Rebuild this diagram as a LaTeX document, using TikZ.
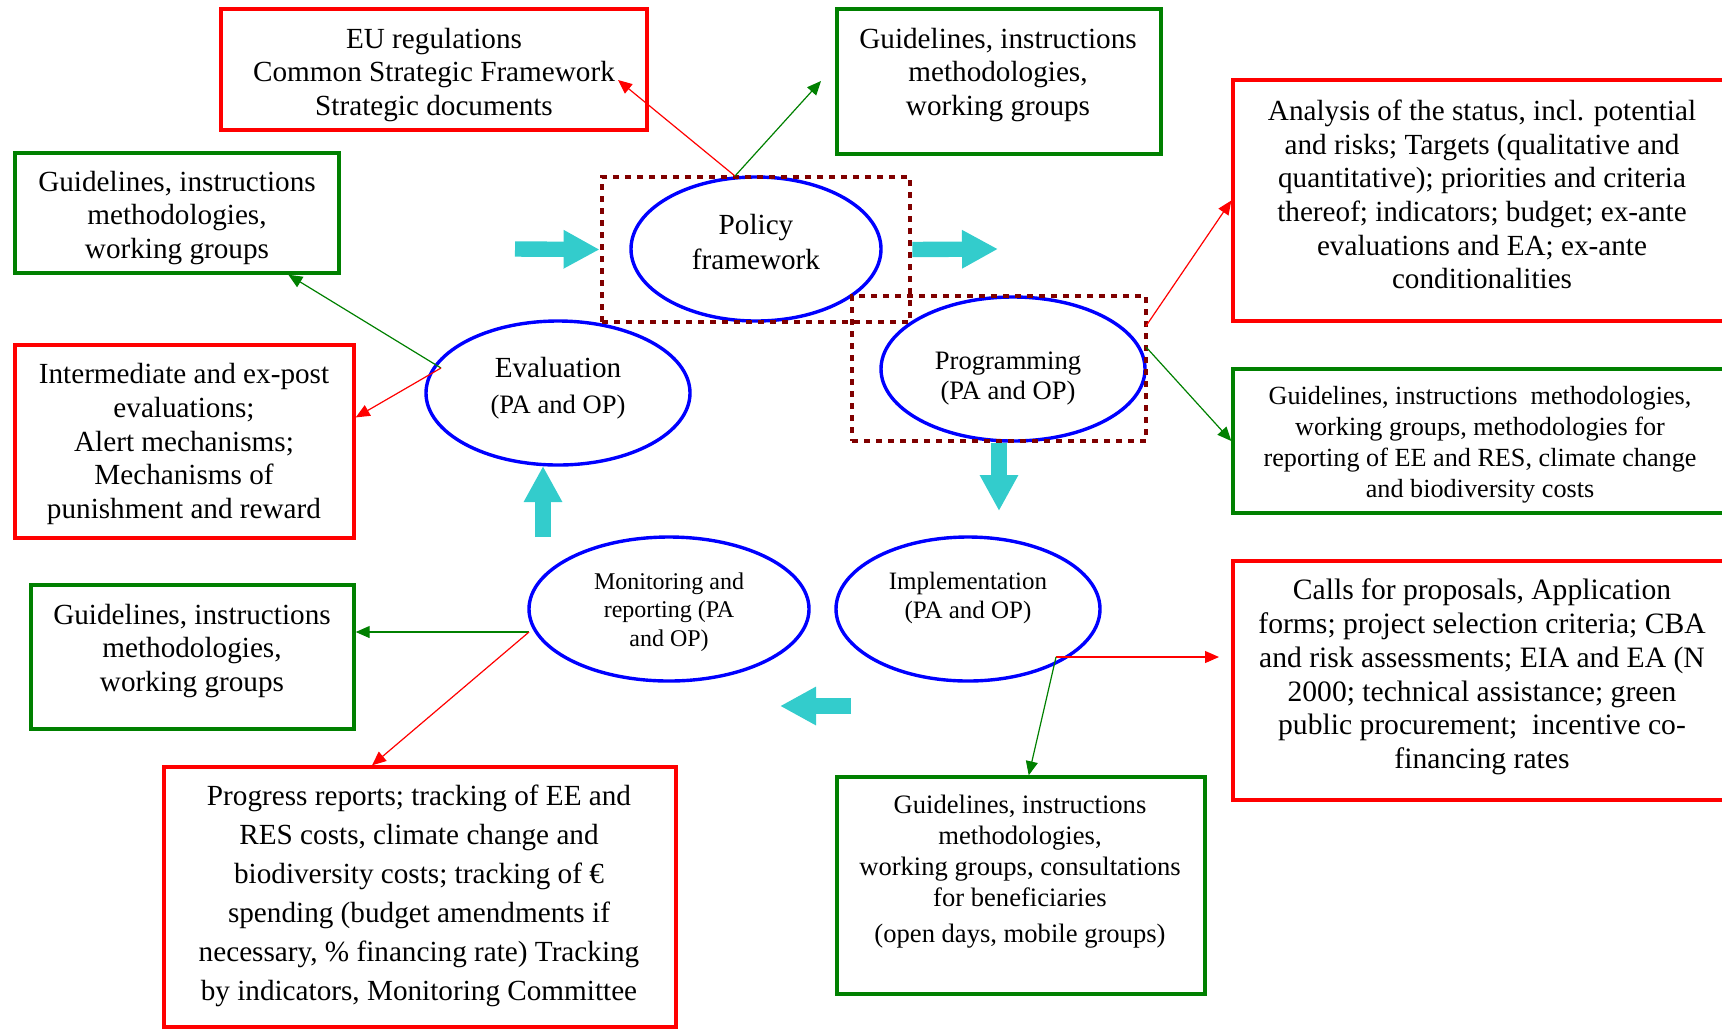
\documentclass[tikz,border=0pt]{standalone}
\usepackage{fontspec}
\setmainfont{Liberation Serif}
\usetikzlibrary{arrows.meta,shapes.geometric}
\definecolor{boxred}{RGB}{255,0,0}
\definecolor{boxgreen}{RGB}{0,128,0}
\definecolor{ellblue}{RGB}{0,0,255}
\definecolor{dotred}{RGB}{128,0,0}
\definecolor{flowcyan}{RGB}{51,204,204}
\newcommand{\fsz}[2]{\fontsize{#1pt}{#2pt}\selectfont}

\begin{document}
\begin{tikzpicture}[x=.5pt,y=-.5pt,
    rbox/.style={draw=boxred,line width=1.7pt,inner sep=0pt},
    gbox/.style={draw=boxgreen,line width=1.7pt,inner sep=0pt},
    stage/.style={draw=ellblue,ellipse,line width=1.7pt,inner sep=0pt},
    dotbox/.style={draw=dotred,line width=2.4pt,dash pattern=on 3pt off 3pt,inner sep=0pt},
    txt/.style={align=center,inner sep=0pt,font=\fsz{14.6}{16.8}},
    rlink/.style={draw=boxred,line width=.6pt,-{Triangle[length=7pt,width=6pt]}},
    glink/.style={draw=boxgreen,line width=.6pt,-{Triangle[length=7pt,width=6pt]}},
    flow/.style={draw=flowcyan,line width=7.7pt,-{Triangle[length=18pt,width=18pt]}}]

    \useasboundingbox (0,0) rectangle (1722,1030);

    % boxes
    \node[rbox,minimum width=213pt,minimum height=60.5pt] (eu) at (434,69.5) {};
    \node[gbox,minimum width=162pt,minimum height=72.5pt] (gtop) at (999,81.5) {};
    \node[gbox,minimum width=162pt,minimum height=60pt] (gleft) at (177,213) {};
    \node[rbox,minimum width=169.5pt,minimum height=96.5pt] (rleft) at (184.5,441.5) {};
    \node[gbox,minimum width=161.5pt,minimum height=72pt] (gleft2) at (192.5,657) {};
    \node[rbox,minimum width=256pt,minimum height=130pt] (rprog) at (420,897) {};
    \node[gbox,minimum width=184pt,minimum height=108.5pt] (gbot) at (1021,885.5) {};
    \node[rbox,minimum width=249pt,minimum height=119.5pt] (rcalls) at (1482,680.5) {};
    \node[rbox,minimum width=249pt,minimum height=120.5pt] (ranal) at (1482,200.5) {};
    \node[gbox,minimum width=249pt,minimum height=72pt] (gright) at (1482,441) {};

    % stages
    \node[stage,minimum width=125pt,minimum height=72pt] (pf) at (756,249) {};
    \node[stage,minimum width=132pt,minimum height=72pt] (pg) at (1013,369) {};
    \node[stage,minimum width=132pt,minimum height=72pt] (ev) at (558,393) {};
    \node[stage,minimum width=140pt,minimum height=72pt] (mo) at (669,609) {};
    \node[stage,minimum width=132pt,minimum height=72pt] (im) at (968,609) {};
    \node[dotbox,minimum width=154pt,minimum height=72.5pt] (pfbox) at (756,249.5) {};
    \node[dotbox,minimum width=147pt,minimum height=72.5pt] (pgbox) at (999,368.5) {};

    % texts
    \node[txt] (eut) at (434,75) {EU regulations\\Common Strategic Framework\\Strategic documents};
    \node[txt] (gtopt) at (998,75) {Guidelines, instructions\\methodologies,\\working groups};
    \node[txt] (gleftt) at (177,218) {Guidelines, instructions\\methodologies,\\working groups};
    \node[txt] (rleftt) at (184,444) {Intermediate and ex-post\\evaluations;\\Alert mechanisms;\\Mechanisms of\\punishment and reward};
    \node[txt] (gleft2t) at (192,651) {Guidelines, instructions\\methodologies,\\working groups};
    \node[txt,font=\fsz{14.6}{19.5}] (rprogt) at (419,896) {Progress reports; tracking of EE and\\RES costs, climate change and\\biodiversity costs; tracking of €\\spending (budget amendments if\\necessary, \% financing rate) Tracking\\by indicators, Monitoring Committee};
    \node[txt,font=\fsz{13.3}{15.4}] (gbott) at (1020,872) {Guidelines, instructions\\methodologies,\\working groups, consultations\\for beneficiaries\\[3pt](open days, mobile groups)};
    \node[txt,font=\fsz{14.8}{16.9}] (rcallst) at (1482,677) {Calls for proposals, Application\\forms; project selection criteria; CBA\\and risk assessments; EIA and EA (N\\2000; technical assistance; green\\public procurement;\ \ incentive co-\\financing rates};
    \node[txt] (ranalt) at (1482,194.5) {Analysis of the status, incl. potential\\and risks; Targets (qualitative and\\quantitative); priorities and criteria\\thereof; indicators; budget; ex-ante\\evaluations and EA; ex-ante\\conditionalities};
    \node[txt,font=\fsz{13.1}{15.5}] (grightt) at (1480,445) {Guidelines, instructions\ \ methodologies,\\working groups, methodologies for\\reporting of EE and RES, climate change\\and biodiversity costs};
    \node[txt,font=\fsz{14.6}{17.5}] (pft) at (756,242) {Policy\\framework};
    \node[txt,font=\fsz{13.3}{15}] (pgt) at (1008,379) {Programming\\(PA and OP)};
    \node[txt,font=\fsz{13.3}{18}] (evt) at (558,388) {{\fsz{14.6}{18}Evaluation}\\(PA and OP)};
    \node[txt,font=\fsz{12}{14.3}] (mot) at (669,612) {Monitoring and\\reporting (PA\\and OP)};
    \node[txt,font=\fsz{12.5}{14.5}] (imt) at (968,598) {Implementation\\(PA and OP)};

    % thin links
    \coordinate (pftop) at (735,176);
    \coordinate (eutip) at (618,80);
    \coordinate (gtoptip) at (821,81);
    \draw[rlink] (pftop) -- (eutip);
    \draw[glink] (pftop) -- (gtoptip);
    \coordinate (pgr) at (1146,326);
    \coordinate (pgg) at (1146,347);
    \draw[rlink] (pgr) -- (ranal.west);
    \draw[glink] (pgg) -- (gright.west);
    \coordinate (evl) at (441,368);
    \draw[glink] (evl) -- (gleft.-29.5);
    \draw[rlink] (evl) -- (rleft.8.9);
    \coordinate (mol) at (529,632);
    \draw[glink] (mol) -- (mol -| gleft2.east);
    \draw[rlink] (mol) -- (rprog.110);
    \coordinate (imr) at (1056,657);
    \coordinate (calltip) at (1219,657);
    \draw[rlink] (imr) -- (calltip);
    \draw[glink] (imr) -- (gbot.86);

    % cycle arrows
    \coordinate (inflow) at (515,249);
    \coordinate (outflow) at (998,249);
    \coordinate (downflow) at (999,511);
    \coordinate (backs) at (851,706);
    \coordinate (backe) at (780,706);
    \coordinate (ups) at (543,537);
    \coordinate (upe) at (543,466);
    \draw[flow] (inflow) -- (pfbox.west);
    \draw[flow] (pfbox.east) -- (outflow);
    \draw[flow] (pgbox.south) -- (downflow);
    \draw[flow] (backs) -- (backe);
    \draw[flow] (ups) -- (upe);
\end{tikzpicture}
\end{document}
